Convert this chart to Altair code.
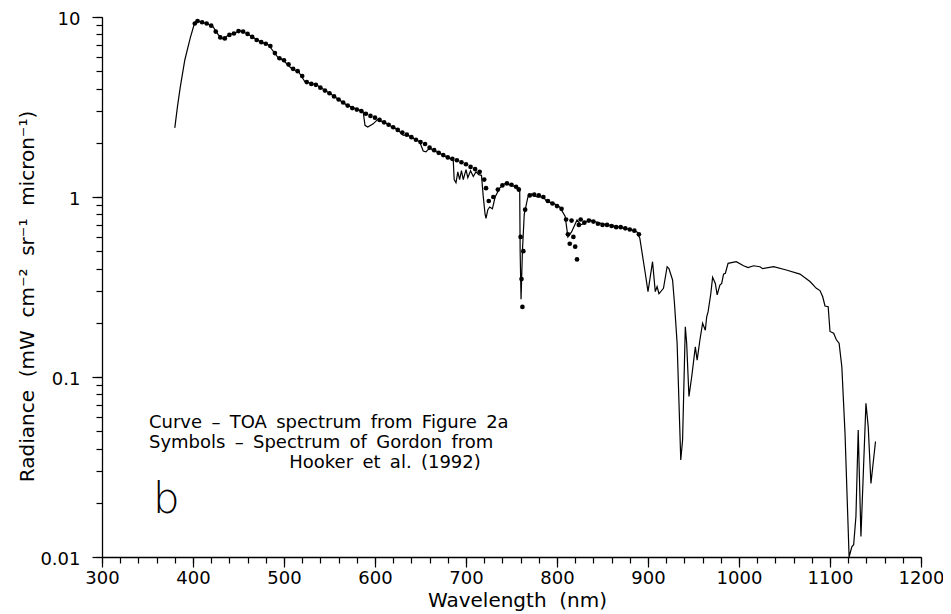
import altair as alt
import pandas as pd

# ---- TOA spectrum (curve) ----
curve_wl = [380, 383, 386, 391, 397, 401, 404, 410, 415, 422, 428, 433, 439, 444, 452, 459,
            474, 483, 494, 498, 508, 516, 523, 536, 550, 569, 587, 589, 592, 598, 603, 610,
            625, 631, 635, 649, 653, 656, 660, 664, 680, 686, 687, 689, 691, 693, 695, 697,
            700, 702, 705, 708, 711, 714, 717, 719, 721, 722, 724, 726, 729, 732, 737, 743,
            750, 759, 759.5, 760.5, 762, 764, 768, 772, 778, 785, 789, 795, 803, 809, 812,
            816, 822, 826, 829, 836, 845, 855, 869, 880, 888, 891, 897, 900, 905, 908, 910,
            912, 917, 921, 923, 927, 929, 932, 936, 938, 941, 942.5, 945, 948, 952, 954, 957,
            960, 963, 964.5, 966, 969, 971, 974, 976, 979, 981, 983, 985, 988, 997, 1005,
            1010, 1016, 1023, 1026, 1038, 1052, 1067, 1078, 1085, 1089, 1092, 1094.5, 1098,
            1100, 1104, 1107, 1110, 1113, 1116.5, 1121, 1124, 1126, 1128.5, 1131, 1134,
            1139.5, 1142, 1145, 1150]
curve_rad = [2.42, 3.2, 4.08, 5.77, 7.65, 9.0, 9.6, 9.35, 9.2, 8.83, 7.94, 7.55, 7.94, 8.1, 8.36, 8.1,
             7.3, 6.99, 5.9, 5.82, 5.19, 4.97, 4.37, 4.19, 3.77, 3.24, 2.98, 2.5, 2.45, 2.55, 2.7, 2.6,
             2.36, 2.2, 2.22, 2.03, 1.8, 1.78, 1.87, 1.82, 1.66, 1.6, 1.25, 1.2, 1.38, 1.25, 1.4, 1.25,
             1.42, 1.28, 1.4, 1.3, 1.38, 1.33, 1.32, 1.0, 0.8, 0.76, 0.85, 0.88, 0.86, 1.0, 1.12, 1.19,
             1.16, 1.12, 0.5, 0.27, 0.5, 0.8, 1.0, 1.04, 1.0, 1.0, 0.94, 0.93, 0.88, 0.78, 0.6,
             0.64, 0.745, 0.7, 0.71, 0.745, 0.72, 0.70, 0.68, 0.66, 0.64, 0.59, 0.377, 0.298, 0.437, 0.298, 0.318,
             0.29, 0.311, 0.41, 0.40, 0.346, 0.26, 0.154, 0.0346, 0.0447, 0.19, 0.154, 0.078, 0.10, 0.147, 0.124, 0.16,
             0.199, 0.182, 0.216, 0.23, 0.29, 0.358, 0.331, 0.286, 0.324, 0.331, 0.373, 0.377, 0.428, 0.437, 0.415,
             0.405, 0.415, 0.41, 0.40, 0.41, 0.393, 0.373, 0.339, 0.311, 0.302, 0.279, 0.248, 0.246,
             0.179, 0.175, 0.161, 0.154, 0.114, 0.0487, 0.0100, 0.0114, 0.0117, 0.0168, 0.0508, 0.013,
             0.0714, 0.053, 0.0256, 0.0438]

# ---- Gordon spectrum (symbols) ----
sym_wl = [402, 405, 410, 415, 420, 425, 430, 435, 440, 445, 450, 455, 460, 465, 470, 475, 480, 485,
          490, 495, 500, 505, 510, 515, 520, 525, 530, 535, 540, 545, 550, 555, 560, 565, 570, 575,
          580, 585, 590, 595, 600, 605, 610, 615, 620, 625, 630, 635, 640, 645, 650, 655, 660, 665,
          670, 675, 680, 685, 690, 695, 700, 705, 710, 715, 720, 722, 725, 730, 735, 740, 745, 750,
          755, 758, 760, 761, 762, 763, 765, 770, 775, 780, 785, 790, 795, 800, 805, 810, 812, 814,
          816, 818, 820, 822, 824, 826, 830, 835, 840, 845, 850, 855, 860, 865, 870, 875, 880, 885, 890]
sym_rad = [9.2, 9.5, 9.35, 9.2, 8.95, 8.3, 7.7, 7.6, 7.95, 8.1, 8.35, 8.3, 8.05, 7.75, 7.45, 7.25, 7.1, 6.9,
           6.3, 5.9, 5.75, 5.45, 5.15, 5.0, 4.7, 4.35, 4.25, 4.2, 4.05, 3.9, 3.77, 3.62, 3.48, 3.35, 3.22, 3.12,
           3.06, 3.0, 2.9, 2.82, 2.76, 2.68, 2.6, 2.52, 2.44, 2.36, 2.28, 2.22, 2.15, 2.08, 2.02, 1.97, 1.88, 1.82,
           1.76, 1.71, 1.66, 1.63, 1.6, 1.56, 1.52, 1.47, 1.43, 1.38, 1.25, 1.12, 0.95, 1.0, 1.1, 1.16, 1.19, 1.17,
           1.14, 1.1, 0.6, 0.35, 0.245, 0.5, 0.85, 1.02, 1.03, 1.02, 1.0, 0.95, 0.92, 0.89, 0.86, 0.75, 0.62, 0.55,
           0.74, 0.6, 0.53, 0.45, 0.7, 0.75, 0.72, 0.74, 0.73, 0.71, 0.70, 0.70, 0.69, 0.68, 0.68, 0.67, 0.66, 0.65, 0.62]

# ---- annotation text ----
SP = "\u2009 "   # slightly wider word gaps, as in the original
note_text = ["Curve" + SP + "–" + SP + "TOA" + SP + "spectrum" + SP + "from" + SP + "Figure" + SP + "2a",
             "Symbols" + SP + "–" + SP + "Spectrum" + SP + "of" + SP + "Gordon" + SP + "from",
             "Hooker" + SP + "et" + SP + "al." + SP + "(1992)"]
note_wl = [351.6, 351.6, 505.8]
note_rad = [0.0521, 0.0402, 0.0311]
panel_label = ["b"]
panel_wl = [356]
panel_rad = [0.01756]

x_major = list(range(300, 1201, 100))
x_minor = list(range(300, 1201, 20))
y_major = [0.01, 0.1, 1, 10]
y_minor = [round(m * d, 4) for d in (0.01, 0.1, 1) for m in range(1, 10)] + [10]

FONT = "DejaVu Sans"
NB = "\u00a0"
GAP = " " + NB

curve_df = pd.DataFrame({"wl": curve_wl, "rad": curve_rad})
sym_df = pd.DataFrame({"wl": sym_wl, "rad": sym_rad})
note_df = pd.DataFrame({"wl": note_wl, "rad": note_rad, "txt": note_text})
panel_df = pd.DataFrame({"wl": panel_wl, "rad": panel_rad, "txt": panel_label})

xscale = alt.Scale(domain=[300, 1200], nice=False, zero=False)
yscale = alt.Scale(type="log", domain=[0.01, 10], nice=False)

common = dict(grid=False, domainColor="black", tickColor="black", labelColor="black",
              titleColor="black", domainWidth=1.3, tickWidth=1.2)

xaxis = alt.Axis(
    title="Wavelength" + GAP + "(nm)", values=x_major, format="d", orient="bottom",
    tickSize=10, labelPadding=2, titlePadding=3, titleX=415, labelFontSize=18, titleFontSize=20,
    labelFont=FONT, titleFont=FONT, titleFontWeight="normal",
    labelFlush=False, labelOverlap=False, **common,
)
yaxis = alt.Axis(
    title="Radiance" + GAP + "(mW" + GAP + "cm⁻²" + GAP + "sr⁻¹" + GAP + "micron⁻¹)",
    values=y_major, format="~g", orient="left",
    tickSize=10, labelPadding=12, labelOffset=2, titlePadding=2, titleY=279,
    labelFontSize=18, titleFontSize=20,
    labelFont=FONT, titleFont=FONT, titleFontWeight="normal",
    labelFlush=False, labelOverlap=False, **common,
)
xminor = alt.Axis(values=x_minor, orient="bottom", tickSize=6, labels=False, domain=False,
                  title="", **common)
yminor = alt.Axis(values=y_minor, orient="left", tickSize=6, labels=False, domain=False,
                  title="", **common)

curve = alt.Chart(curve_df).mark_line(color="black", strokeWidth=1.2, clip=True).encode(
    x=alt.X("wl:Q", scale=xscale, axis=xaxis),
    y=alt.Y("rad:Q", scale=yscale, axis=yaxis),
)
symbols = alt.Chart(sym_df).mark_circle(color="black", size=22, opacity=1).encode(
    x=alt.X("wl:Q", scale=xscale, axis=xminor),
    y=alt.Y("rad:Q", scale=yscale, axis=yminor),
)
notes = alt.Chart(note_df).mark_text(
    align="left", baseline="alphabetic", fontSize=18, font=FONT, color="black"
).encode(
    x=alt.X("wl:Q", scale=xscale, axis=None),
    y=alt.Y("rad:Q", scale=yscale, axis=None),
    text="txt:N",
)
panel = alt.Chart(panel_df).mark_text(
    align="left", baseline="alphabetic", fontSize=42, font=FONT, fontWeight=200, color="black"
).encode(
    x=alt.X("wl:Q", scale=xscale, axis=None),
    y=alt.Y("rad:Q", scale=yscale, axis=None),
    text="txt:N",
)

chart = alt.layer(curve, symbols, notes, panel).resolve_axis(
    x="independent", y="independent"
).properties(
    width=819, height=540,
    autosize=alt.AutoSizeParams(type="none"),
    padding={"left": 94, "top": 9, "right": 22, "bottom": 56},
    background="white",
).configure_view(strokeWidth=0)

chart.save("out.html", embed_options={"renderer": "svg", "actions": False})
